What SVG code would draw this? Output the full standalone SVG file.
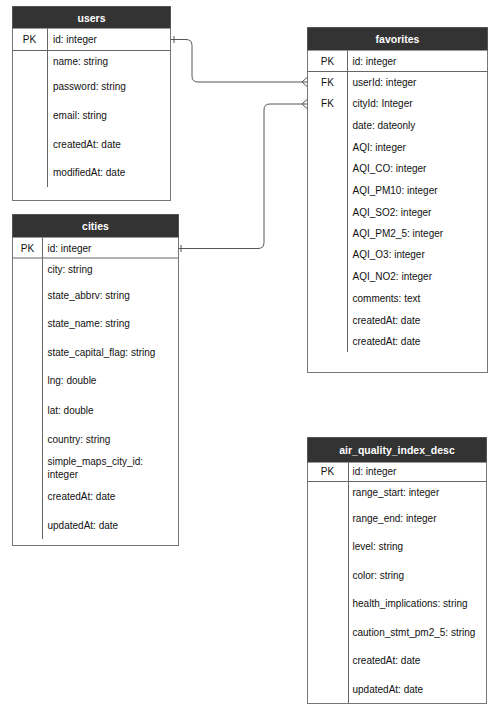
<svg xmlns="http://www.w3.org/2000/svg" width="502" height="715" viewBox="0 0 502 715">
<style>
text{font-family:"Liberation Sans",Arial,Helvetica,sans-serif;font-size:10px;fill:#111}
.hd{fill:#fff;font-weight:bold;font-size:10.5px;text-anchor:middle}
.pk{text-anchor:middle}
.box{fill:#fff;stroke:#777;stroke-width:1}
.head{fill:#333}
.ln{stroke:#555;stroke-width:1;fill:none}
.dv{stroke:#666;stroke-width:1}
</style>
<rect width="502" height="715" fill="#fff"/>
<g id="users">
<rect class="box" x="12.5" y="6.5" width="158" height="194"/>
<rect class="head" x="12.5" y="6.5" width="158" height="22"/>
<text class="hd" x="91.5" y="21.5">users</text>
<line class="dv" x1="12.5" y1="50.5" x2="170.5" y2="50.5"/>
<line class="dv" x1="47.5" y1="28.5" x2="47.5" y2="187"/>
<text class="pk" x="29.5" y="42.5">PK</text>
<text x="53" y="42.5">id: integer</text>
<text x="53" y="64.5">name: string</text>
<text x="53" y="89.5">password: string</text>
<text x="53" y="118.5">email: string</text>
<text x="53" y="147.5">createdAt: date</text>
<text x="53" y="175.5">modifiedAt: date</text>
</g>
<g id="favorites">
<rect class="box" x="307.5" y="27.5" width="180" height="345"/>
<rect class="head" x="307.5" y="27.5" width="180" height="23"/>
<text class="hd" x="397.5" y="43">favorites</text>
<line class="dv" x1="307.5" y1="71.5" x2="487.5" y2="71.5"/>
<line class="dv" x1="347.5" y1="50.5" x2="347.5" y2="352"/>
<text class="pk" x="327.5" y="64.5">PK</text>
<text class="pk" x="327.5" y="85.5">FK</text>
<text class="pk" x="327.5" y="107">FK</text>
<text x="352.5" y="64.5">id: integer</text>
<text x="352.5" y="85.5">userId: integer</text>
<text x="352.5" y="107">cityId: Integer</text>
<text x="352.5" y="129">date: dateonly</text>
<text x="352.5" y="150.5">AQI: integer</text>
<text x="352.5" y="172">AQI_CO: integer</text>
<text x="352.5" y="193.5">AQI_PM10: integer</text>
<text x="352.5" y="215.5">AQI_SO2: integer</text>
<text x="352.5" y="237">AQI_PM2_5: integer</text>
<text x="352.5" y="258">AQI_O3: integer</text>
<text x="352.5" y="280">AQI_NO2: integer</text>
<text x="352.5" y="301.5">comments: text</text>
<text x="352.5" y="323.5">createdAt: date</text>
<text x="352.5" y="345">createdAt: date</text>
</g>
<g id="cities">
<rect class="box" x="12.5" y="214.5" width="166" height="331"/>
<rect class="head" x="12.5" y="214.5" width="166" height="23"/>
<text class="hd" x="95.5" y="230">cities</text>
<line class="dv" x1="12.5" y1="258" x2="178.5" y2="258"/>
<line class="dv" x1="42.5" y1="237.5" x2="42.5" y2="539"/>
<text class="pk" x="27.5" y="251.5">PK</text>
<text x="47.5" y="251.5">id: integer</text>
<text x="47.5" y="272.5">city: string</text>
<text x="47.5" y="298.5">state_abbrv: string</text>
<text x="47.5" y="327">state_name: string</text>
<text x="47.5" y="355.5">state_capital_flag: string</text>
<text x="47.5" y="383.5">lng: double</text>
<text x="47.5" y="413.5">lat: double</text>
<text x="47.5" y="442.5">country: string</text>
<text x="47.5" y="465">simple_maps_city_id:</text>
<text x="47.5" y="477.5">integer</text>
<text x="47.5" y="499.5">createdAt: date</text>
<text x="47.5" y="528.5">updatedAt: date</text>
</g>
<g id="air_quality_index_desc">
<rect class="box" x="307.5" y="437.5" width="179" height="266"/>
<rect class="head" x="307.5" y="437.5" width="179" height="25"/>
<text class="hd" x="397" y="454">air_quality_index_desc</text>
<line class="dv" x1="307.5" y1="481.5" x2="486.5" y2="481.5"/>
<line class="dv" x1="348.5" y1="462.5" x2="348.5" y2="703.5"/>
<text class="pk" x="327.5" y="474.5">PK</text>
<text x="352.5" y="474.5">id: integer</text>
<text x="352.5" y="496">range_start: integer</text>
<text x="352.5" y="521.5">range_end: integer</text>
<text x="352.5" y="550">level: string</text>
<text x="352.5" y="578.5">color: string</text>
<text x="352.5" y="606.5">health_implications: string</text>
<text x="352.5" y="635.5">caution_stmt_pm2_5: string</text>
<text x="352.5" y="664">createdAt: date</text>
<text x="352.5" y="692.5">updatedAt: date</text>
</g>
<g id="connectors">
<path class="ln" d="M171,39.5 H186 Q192,39.5 192,45.5 V76 Q192,82 198,82 H307"/>
<line class="ln" x1="174" y1="36" x2="174" y2="43"/>
<path class="ln" d="M307,77.5 L302,82 L307,86.5"/>
<path class="ln" d="M178.5,248.5 H258 Q264,248.5 264,242.5 V110 Q264,104 270,104 H307"/>
<line class="ln" x1="181" y1="245" x2="181" y2="252"/>
<path class="ln" d="M307,99.5 L302,104 L307,108.5"/>
</g>
</svg>
